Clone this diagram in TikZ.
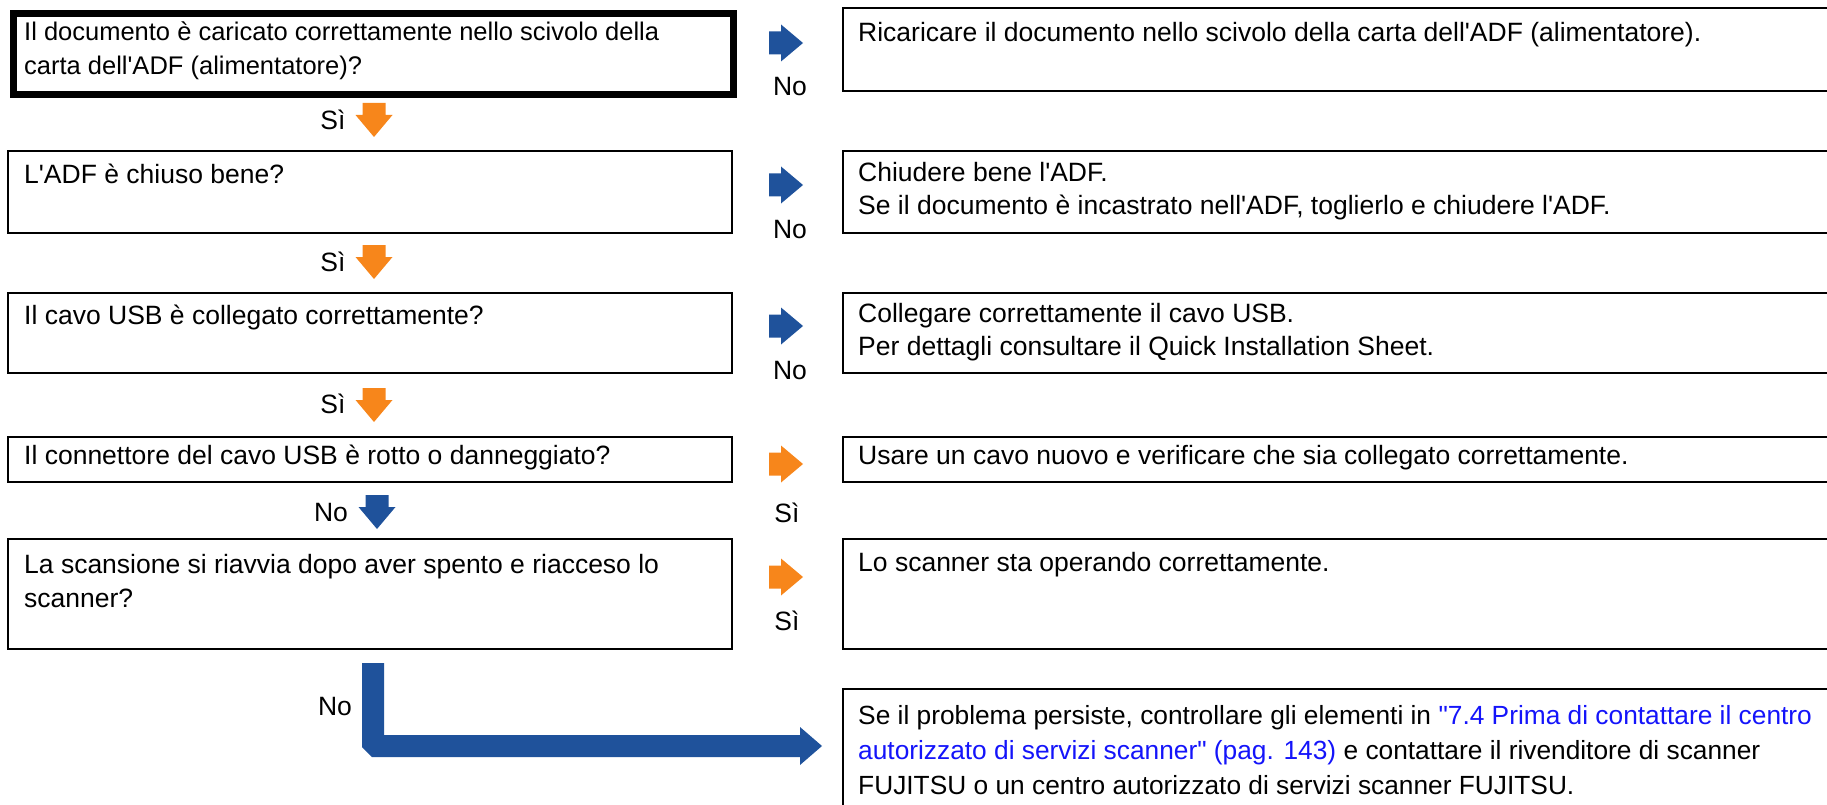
\documentclass[tikz,border=0pt]{standalone}
\usepackage{fontspec}
\newfontfamily\arialfont{Liberation Sans}
\definecolor{fblue}{RGB}{31,82,155}
\definecolor{forange}{RGB}{247,134,27}
\definecolor{flink}{RGB}{20,20,250}
\newcommand\firststrut{\rule{0pt}{24pt}}
\begin{document}
\begin{tikzpicture}[x=1pt,y=-1pt,
  font=\arialfont\fontsize{26.5}{34}\selectfont,
  qbox/.style={draw=black,line width=2.2pt,anchor=north west,inner sep=0pt,minimum width=724pt},
  abox/.style={draw=black,line width=2.2pt,anchor=north west,inner sep=0pt,minimum width=988pt},
  txt/.style={anchor=north west,inner sep=0pt,align=left},
  lbl/.style={inner sep=0pt},
  rarr/.pic={\fill[pic actions] (0,-11.5) -- (12,-11.5) -- (12,-18.5) -- (34,0) -- (12,18.5) -- (12,11.5) -- (0,11.5) -- cycle;},
  darr/.pic={\fill[pic actions] (-11.5,0) -- (-11.5,12) -- (-18.5,12) -- (0,34) -- (18.5,12) -- (11.5,12) -- (11.5,0) -- cycle;}
]
\useasboundingbox (0,0) rectangle (1827,805);
% question boxes
\node[qbox,line width=7pt,minimum width=720pt,minimum height=81pt] (q1) at (10,10) {};
\node[qbox,minimum height=82pt] (q2) at (7,150) {};
\node[qbox,minimum height=80pt] (q3) at (7,292) {};
\node[qbox,minimum height=45pt] (q4) at (7,436) {};
\node[qbox,minimum height=110pt] (q5) at (7,538) {};
% answer boxes
\node[abox,minimum height=83pt] (a1) at (842,7) {};
\node[abox,minimum height=82pt] (a2) at (842,150) {};
\node[abox,minimum height=80pt] (a3) at (842,292) {};
\node[abox,minimum height=45pt] (a4) at (842,436) {};
\node[abox,minimum height=110pt] (a5) at (842,538) {};
\node[abox,minimum height=130pt] (a6) at (842,688) {};
% texts (anchor = first baseline - 24)
\node[txt,font=\arialfont\fontsize{25.5}{34}\selectfont] (q1t) at (24,16.5) {\firststrut Il documento è caricato correttamente nello scivolo della\\carta dell'ADF (alimentatore)?};
\node[txt] (q2t) at (24,159) {\firststrut L'ADF è chiuso bene?};
\node[txt] (q3t) at (24,300) {\firststrut Il cavo USB è collegato correttamente?};
\node[txt] (q4t) at (24,440) {\firststrut Il connettore del cavo USB è rotto o danneggiato?};
\node[txt] (q5t) at (24,549) {\firststrut La scansione si riavvia dopo aver spento e riacceso lo\\scanner?};
\node[txt] (a1t) at (858,17.5) {\firststrut Ricaricare il documento nello scivolo della carta dell'ADF (alimentatore).};
\node[txt,font=\arialfont\fontsize{26.5}{33}\selectfont] (a2t) at (858,157) {\firststrut Chiudere bene l'ADF.\\Se il documento è incastrato nell'ADF, toglierlo e chiudere l'ADF.};
\node[txt,font=\arialfont\fontsize{26.5}{33}\selectfont] (a3t) at (858,298) {\firststrut Collegare correttamente il cavo USB.\\Per dettagli consultare il Quick Installation Sheet.};
\node[txt] (a4t) at (858,440) {\firststrut Usare un cavo nuovo e verificare che sia collegato correttamente.};
\node[txt] (a5t) at (858,547) {\firststrut Lo scanner sta operando correttamente.};
\node[txt,font=\arialfont\fontsize{26.3}{35}\selectfont] (a6t) at (858,700) {\firststrut Se il problema persiste, controllare gli elementi in {\color{flink}"7.4 Prima di contattare il centro}\\{\color{flink}autorizzato di servizi scanner" (pag. 143)} e contattare il rivenditore di scanner\\FUJITSU o un centro autorizzato di servizi scanner FUJITSU.};
% right arrows and labels
\pic[fill=fblue] at (769,43) {rarr};
\node[lbl] (n1) at (790,87) {No};
\pic[fill=fblue] at (769,185) {rarr};
\node[lbl] (n2) at (790,230) {No};
\pic[fill=fblue] at (769,326) {rarr};
\node[lbl] (n3) at (790,371) {No};
\pic[fill=forange] at (769,464) {rarr};
\node[lbl] (s4) at (787,513) {Sì};
\pic[fill=forange] at (769,577) {rarr};
\node[lbl] (s5) at (787,621) {Sì};
% down arrows and labels
\pic[fill=forange] at (374,103) {darr};
\node[lbl] (d1) at (333,120) {Sì};
\pic[fill=forange] at (374,245) {darr};
\node[lbl] (d2) at (333,262) {Sì};
\pic[fill=forange] at (374,388) {darr};
\node[lbl] (d3) at (333,404) {Sì};
\pic[fill=fblue] at (377,495) {darr};
\node[lbl] (d4) at (331,513) {No};
% L arrow
\fill[fblue] (362,663) -- (384,663) -- (384,735) -- (800,735) -- (800,727) -- (822,746) -- (800,765) -- (800,757) -- (372,757) -- (362,747) -- cycle;
\node[lbl] (d5) at (335,707) {No};
\end{tikzpicture}
\end{document}
